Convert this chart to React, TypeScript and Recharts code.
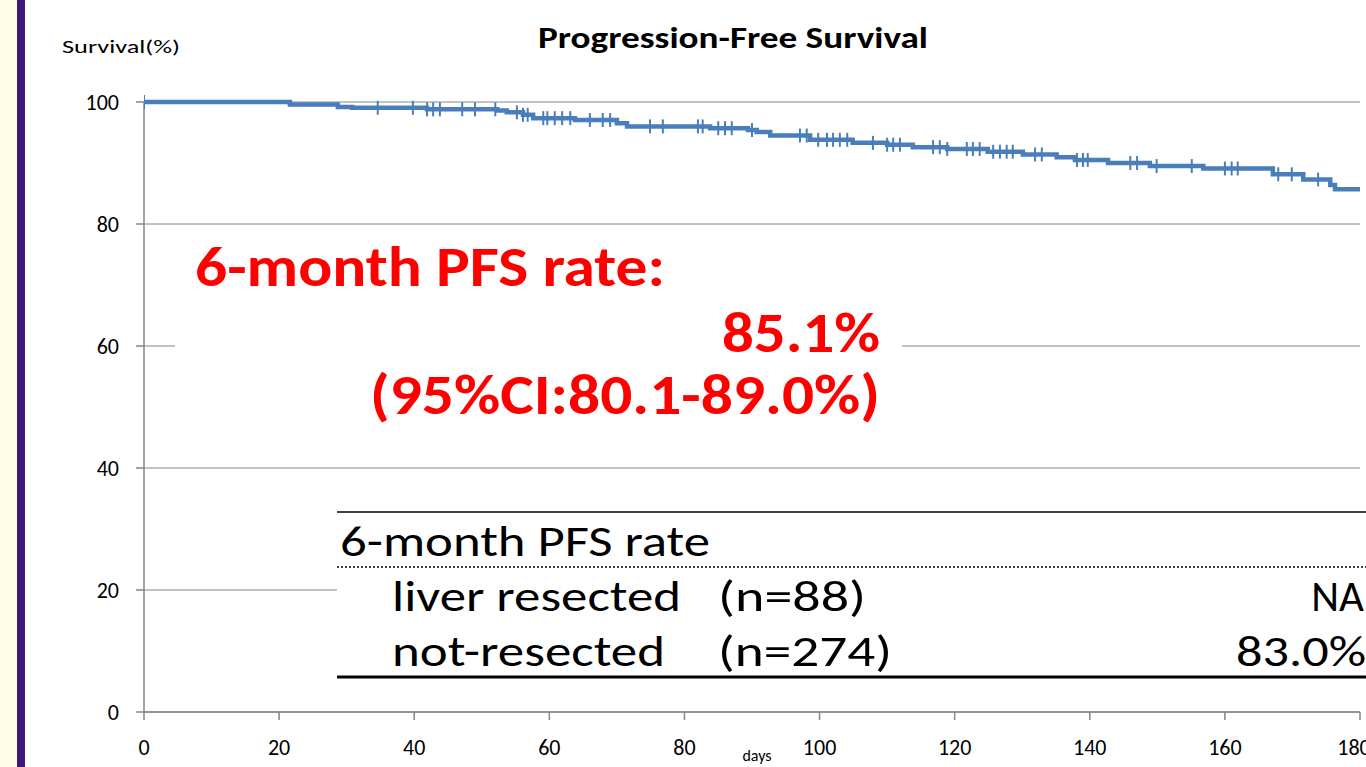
import { ComposedChart, Line, Scatter, XAxis, YAxis, CartesianGrid } from 'recharts';

// step points of the KM curve (days, survival %)
const stepDays = [0, 21.6, 28.7, 30.8, 41.9, 52.3, 53.7, 56.1, 57.6, 63.8, 70.0, 71.5, 83.8, 89.4, 90.7, 92.7, 98.6, 104.9, 110.0, 113.8, 118.9, 124.9, 130.1, 135.1, 137.8, 142.7, 148.9, 156.8, 167.1, 171.6, 175.6, 176.3, 180];
const survival = [100, 99.6, 99.2, 99.05, 98.8, 98.6, 98.3, 97.9, 97.35, 97.05, 96.5, 96.0, 95.7, 95.4, 95.1, 94.5, 93.8, 93.3, 93.0, 92.6, 92.3, 91.85, 91.4, 90.95, 90.5, 90.0, 89.5, 89.1, 88.15, 87.3, 86.4, 85.7, 85.7];

// censored observations (days)
const censorDays = [0, 34.6, 39.8, 41.9, 42.8, 43.8, 47.1, 49.0, 52.0, 55.2, 56.1, 56.8, 59.1, 59.7, 60.8, 61.9, 63.1, 66.0, 67.9, 69.0, 74.9, 76.8, 82.0, 82.7, 85.0, 86.0, 87.0, 90.0, 97.1, 98.1, 99.8, 101.1, 102.0, 103.0, 104.1, 107.9, 110.0, 110.9, 111.9, 116.8, 117.8, 118.9, 121.8, 122.7, 123.7, 125.7, 126.7, 127.7, 128.6, 131.9, 132.9, 138.1, 139.0, 139.7, 146.0, 147.0, 149.9, 155.1, 160.0, 161.0, 161.9, 167.9, 169.9, 173.8];

const xTicks = [0, 20, 40, 60, 80, 100, 120, 140, 160, 180];
const yTicks = [0, 20, 40, 60, 80, 100];

const BLUE = '#4A7EBB';
const AXIS = '#868686';
const FONT = 'Carlito, Lato, "Open Sans", sans-serif';

const curve = stepDays.map((day, i) => ({ day, surv: survival[i] }));

// censor marks sit on the curve at the step value in force that day
const survAt = (d: number) => {
  let v = survival[0];
  stepDays.forEach((s, i) => {
    if (s <= d) v = survival[i];
  });
  return v;
};
const censors = censorDays.map((day) => ({ day, surv: survAt(day) }));

function CensorMark(props: { cx?: number; cy?: number }) {
  const { cx, cy } = props;
  if (cx == null || cy == null) return null;
  return <line x1={cx} x2={cx} y1={cy - 7} y2={cy + 7} stroke={BLUE} strokeWidth={2} />;
}

function AxisTick(props: { x?: number; y?: number; payload?: { value: number }; anchor: 'middle' | 'end' }) {
  const { x, y, payload, anchor } = props;
  if (x == null || y == null || !payload) return null;
  return (
    <text
      x={x}
      y={y}
      dy={anchor === 'middle' ? 15 : 8}
      textAnchor={anchor}
      fontSize={22}
      fontFamily={FONT}
      fill="#000"
    >
      {payload.value}
    </text>
  );
}

export default function App() {
  return (
    <div style={{ position: 'absolute', left: 0, top: 0, width: 1366, height: 767, overflow: 'hidden', background: '#fff' }}>
      <div style={{ position: 'absolute', left: 0, top: 0, width: 17, height: 767, background: '#FFFDE6' }} />
      <div style={{ position: 'absolute', left: 17, top: 0, width: 8, height: 767, background: '#3E1A78' }} />

      <div style={{ position: 'absolute', left: 0, top: 0 }}>
        <ComposedChart width={1366} height={767} margin={{ top: 102, right: 6, bottom: 25, left: 0 }}>
          <CartesianGrid horizontal vertical={false} stroke={AXIS} strokeWidth={1} />
          <XAxis
            dataKey="day"
            type="number"
            domain={[0, 180]}
            ticks={xTicks}
            allowDataOverflow
            height={30}
            stroke={AXIS}
            strokeWidth={1.5}
            tickSize={8}
            tickMargin={20}
            tick={<AxisTick anchor="middle" />}
          />
          <YAxis
            type="number"
            domain={[0, 100]}
            ticks={yTicks}
            width={144}
            stroke={AXIS}
            strokeWidth={1.5}
            tickSize={8}
            tickMargin={17}
            tick={<AxisTick anchor="end" />}
          />
          <Line
            data={curve}
            dataKey="surv"
            type="stepAfter"
            stroke={BLUE}
            strokeWidth={4.5}
            dot={false}
            isAnimationActive={false}
          />
          <Scatter data={censors} dataKey="surv" shape={<CensorMark />} isAnimationActive={false} />
        </ComposedChart>
      </div>

      <svg width={1366} height={767} style={{ position: 'absolute', left: 0, top: 0, pointerEvents: 'none' }}>
        <text x={62} y={53} fontSize={19} fontFamily={FONT} textLength={118} lengthAdjust="spacingAndGlyphs">Survival(%)</text>
        <text x={538} y={48} fontSize={30} fontWeight={700} fontFamily={FONT} textLength={390} lengthAdjust="spacingAndGlyphs">Progression-Free Survival</text>
        <text x={757} y={761} fontSize={16} fontFamily={FONT} textAnchor="middle">days</text>

        <rect x={175} y={234} width={727} height={200} fill="#fff" />
        <g fill="#FF0000" fontWeight={700} fontFamily={FONT} fontSize={57}>
          <text x={195} y={286} textLength={470} lengthAdjust="spacingAndGlyphs">6-month PFS rate:</text>
          <text x={880} y={352} textAnchor="end" textLength={158} lengthAdjust="spacingAndGlyphs">85.1%</text>
          <text x={880} y={414} textAnchor="end" textLength={510} lengthAdjust="spacingAndGlyphs">(95%CI:80.1-89.0%)</text>
        </g>

        <rect x={337} y={500} width={1029} height={190} fill="#fff" />
        <line x1={337} x2={1366} y1={512} y2={512} stroke="#000" strokeWidth={1.5} />
        <line x1={337} x2={1366} y1={567} y2={567} stroke="#000" strokeWidth={1.5} strokeDasharray="2 2" />
        <line x1={337} x2={1366} y1={677} y2={677} stroke="#000" strokeWidth={3} />
        <g fill="#000" fontFamily={FONT} fontSize={43}>
          <text x={340} y={556} textLength={370} lengthAdjust="spacingAndGlyphs">6-month PFS rate</text>
          <text x={392} y={611} textLength={289} lengthAdjust="spacingAndGlyphs">liver resected</text>
          <text x={718} y={611} textLength={148} lengthAdjust="spacingAndGlyphs">(n=88)</text>
          <text x={1364} y={611} textAnchor="end">NA</text>
          <text x={392} y={666} textLength={273} lengthAdjust="spacingAndGlyphs">not-resected</text>
          <text x={718} y={666} textLength={174} lengthAdjust="spacingAndGlyphs">(n=274)</text>
          <text x={1366} y={666} textAnchor="end" textLength={130} lengthAdjust="spacingAndGlyphs">83.0%</text>
        </g>
      </svg>
    </div>
  );
}
